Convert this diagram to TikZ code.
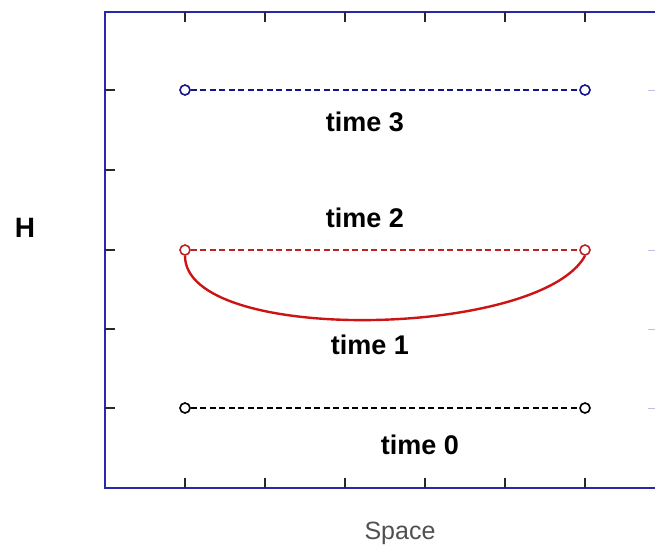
\documentclass[tikz,border=0pt]{standalone}
\usepackage{fontspec}
\setmainfont{Liberation Sans}
\usetikzlibrary{positioning,calc}
\definecolor{AxisBlue}{RGB}{40,40,170}
\definecolor{LineBlue}{RGB}{20,20,140}
\definecolor{LineRed}{RGB}{185,35,35}
\definecolor{CurveRed}{RGB}{205,20,20}
\definecolor{TickGray}{RGB}{40,40,40}
\definecolor{LabelGray}{RGB}{80,80,80}

\begin{document}
\begin{tikzpicture}[x=1pt, y=-1pt,
    marker/.style={circle, draw, line width=1.6pt, inner sep=0pt, minimum size=10pt},
    level/.style={dash pattern=on 6pt off 3.5pt, line width=2pt},
    timetext/.style={font=\fontsize{27}{30}\selectfont\bfseries}
]
    \useasboundingbox (0,0) rectangle (655,547);
    \fill[white] (0,0) rectangle (655,547);

    % axes and ticks
    \draw[AxisBlue, line width=1.5pt] (655,12) -- (105,12) -- (105,488) -- (655,488);
    \foreach \x in {185,265,...,585} {
        \draw[TickGray, line width=1.2pt] (\x,488) -- ++(0,-10);
        \draw[TickGray, line width=1.2pt] (\x,12) -- ++(0,10);
    }
    \foreach \y in {90,170,250,329,408}
        \draw[TickGray, line width=1.2pt] (105,\y) -- ++(10,0);
    \foreach \y in {90,250,329,408}
        \draw[AxisBlue!30, line width=1pt] (648,\y) -- (655,\y);

    % levels
    \node[marker, LineBlue] (b3l) at (185,90) {};
    \node[marker, LineBlue] (b3r) at (585,90) {};
    \node[marker, LineRed] (r2l) at (185,250) {};
    \node[marker, LineRed] (r2r) at (585,250) {};
    \node[marker, black] (k0l) at (185,408) {};
    \node[marker, black] (k0r) at (585,408) {};

    \draw[level, LineBlue] (b3l) -- (b3r);
    \draw[level, LineRed] (r2l) -- (r2r);
    \draw[level, black] (k0l) -- (k0r);
    \draw[CurveRed, line width=2.4pt] (r2l.south) .. controls (185,345) and (540,338) .. (r2r.south);

    % labels
    \node[timetext] (t3) at (365,122) {time 3};
    \node[timetext] (t2) at (365,218) {time 2};
    \node[timetext] (t1) at (370,345) {time 1};
    \node[timetext] (t0) at (420,445) {time 0};
    \node[font=\fontsize{28}{32}\selectfont\bfseries] (hlab) at (25,228) {H};
    \node[font=\fontsize{25}{30}\selectfont, LabelGray] (space) at (400,533) {Space};
\end{tikzpicture}
\end{document}
